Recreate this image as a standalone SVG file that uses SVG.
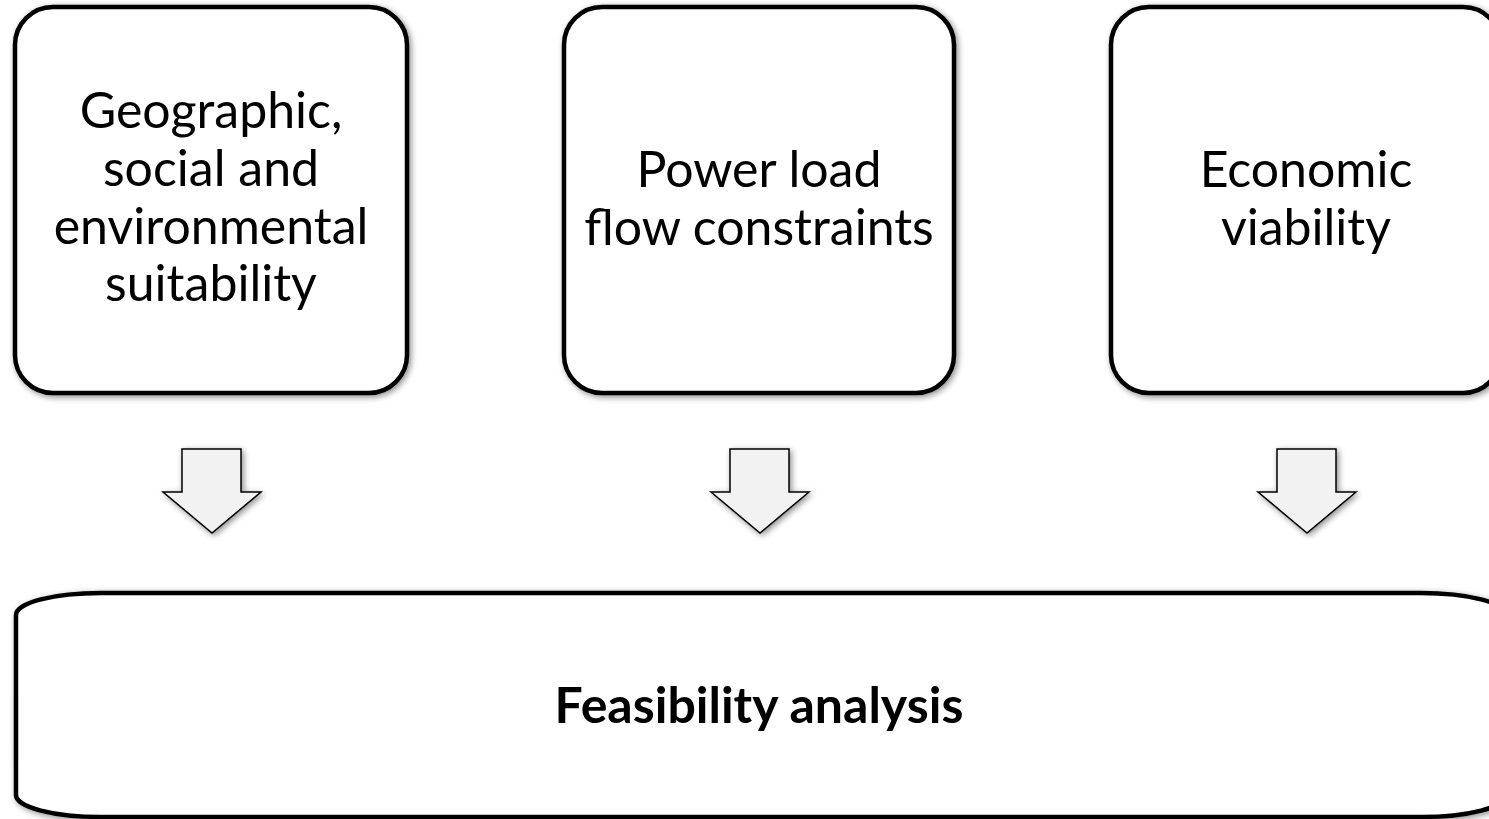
<svg xmlns="http://www.w3.org/2000/svg" width="1489" height="819" viewBox="0 0 1489 819">
<defs>
<filter id="sh" x="-10%" y="-10%" width="120%" height="120%">
<feGaussianBlur in="SourceAlpha" stdDeviation="3"/>
<feOffset dx="2" dy="2" result="b"/>
<feComponentTransfer><feFuncA type="linear" slope="0.45"/></feComponentTransfer>
<feMerge><feMergeNode/><feMergeNode in="SourceGraphic"/></feMerge>
</filter>
</defs>
<style>
.box{fill:#fff;stroke:#000;stroke-width:4.5}
.arr{fill:#f2f2f2;stroke:#000;stroke-width:1.5;stroke-linejoin:miter}
.t{font-family:Lato,"Liberation Sans",sans-serif;font-size:50px;fill:#000;text-anchor:middle}
.b{font-family:Lato,"Liberation Sans",sans-serif;font-size:50px;font-weight:bold;fill:#000;text-anchor:middle}
</style>
<rect width="1489" height="819" fill="#fff"/>
<g id="node-geo">
<rect class="box" filter="url(#sh)" x="15" y="7" width="392" height="386" rx="38" ry="38"/>
<text class="t" x="211" y="128">Geographic,</text>
<text class="t" x="211" y="186">social and</text>
<text class="t" x="211" y="244">environmental</text>
<text class="t" x="211" y="301">suitability</text>
</g>
<g id="node-power">
<rect class="box" filter="url(#sh)" x="564" y="7" width="390" height="386" rx="38" ry="38"/>
<text class="t" x="759" y="187">Power load</text>
<text class="t" x="759" y="245">flow constraints</text>
</g>
<g id="node-econ">
<rect class="box" filter="url(#sh)" x="1111" y="7" width="390" height="386" rx="38" ry="38"/>
<text class="t" x="1306" y="187">Economic</text>
<text class="t" x="1306" y="245">viability</text>
</g>
<g id="node-feas">
<rect class="box" filter="url(#sh)" x="16" y="593" width="1490" height="224" rx="85" ry="22"/>
<text class="b" x="759" y="723">Feasibility analysis</text>
</g>
<g id="connectors">
<polygon class="arr" filter="url(#sh)" points="182,449 241,449 241,492 261,492 212,533 163,492 182,492"/>
<polygon class="arr" filter="url(#sh)" points="730,449 789,449 789,492 809,492 760,533 711,492 730,492"/>
<polygon class="arr" filter="url(#sh)" points="1277,449 1336,449 1336,492 1356,492 1307,533 1258,492 1277,492"/>
</g>
</svg>
